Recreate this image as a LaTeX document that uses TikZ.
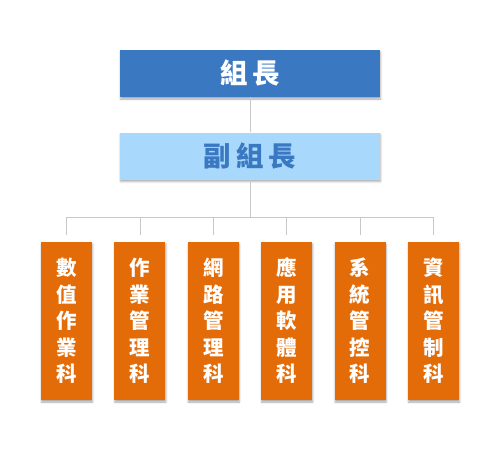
\documentclass[tikz,border=0pt]{standalone}
\usepackage{fontspec}
\newfontfamily\cjk{Noto Sans CJK TC}
\usepackage{tikz}
\usetikzlibrary{positioning, shadows.blur}
\usepackage{xcolor}
\definecolor{leader}{RGB}{58, 120, 194}
\definecolor{deputy}{RGB}{168, 216, 252}
\definecolor{section}{RGB}{227, 108, 9}
\definecolor{linkgray}{RGB}{200, 200, 200}
\tikzset{
    headbox/.style={rectangle, minimum width=260pt, minimum height=47pt, inner sep=0pt, align=center, font=\cjk\bfseries\fontsize{27.5}{27.5}\selectfont, blur shadow={shadow xshift=0.5pt, shadow yshift=-2pt, shadow blur radius=2pt, shadow opacity=35}},
    leaderbox/.style={headbox, fill=leader, text=white},
    deputybox/.style={headbox, fill=deputy, text=leader},
    sectionbox/.style={rectangle, minimum width=51pt, minimum height=158pt, inner sep=0pt, align=center, fill=section, text=white, font=\cjk\bfseries\fontsize{20.5}{26.5}\selectfont, blur shadow={shadow xshift=0.5pt, shadow yshift=-2pt, shadow blur radius=2pt, shadow opacity=35}},
    link/.style={draw=linkgray, line width=0.8pt}
}
\begin{document}
\begin{tikzpicture}[x=1pt, y=-1pt]
    \useasboundingbox (0, 0) rectangle (500, 450);

    % Leaders
    \node[leaderbox] (leader) at (250, 73.5) {組\hspace{5pt}長};
    \node[deputybox] (deputy) at (250, 156) {副\hspace{5pt}組\hspace{5pt}長};

    % Sections
    \node[sectionbox] (sec1) at (66.5, 321) {數\\值\\作\\業\\科};
    \node[sectionbox, right=22pt of sec1] (sec2) {作\\業\\管\\理\\科};
    \node[sectionbox, right=22pt of sec2] (sec3) {網\\路\\管\\理\\科};
    \node[sectionbox, right=22pt of sec3] (sec4) {應\\用\\軟\\體\\科};
    \node[sectionbox, right=22pt of sec4] (sec5) {系\\統\\管\\控\\科};
    \node[sectionbox, right=22pt of sec5] (sec6) {資\\訊\\管\\制\\科};

    % Connectors
    \coordinate (bus) at (250, 217);
    \draw[link] (leader) -- (deputy);
    \foreach \i in {1,...,6} {
        \draw[link, shorten >=7pt] (deputy.south) -- (bus) -| (sec\i.north);
    }
\end{tikzpicture}
\end{document}
